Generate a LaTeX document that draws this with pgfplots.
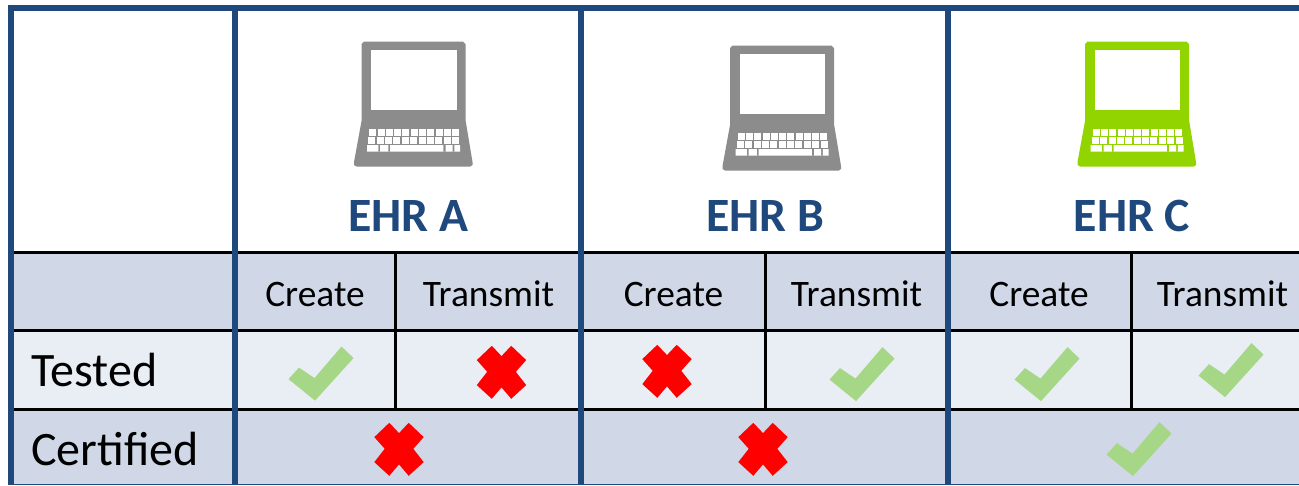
\documentclass[border=0pt]{standalone}
\usepackage{pgfplots}
\usepackage{pgfplotstable}
\pgfplotsset{compat=1.18}
\usepackage{fontspec}
\setmainfont{Carlito}
\definecolor{ehrblue}{HTML}{1F497D}
\definecolor{rowdark}{HTML}{D0D8E8}
\definecolor{rowlight}{HTML}{E9EDF4}
\definecolor{lapgray}{HTML}{8C8C8C}
\definecolor{lapgreen}{HTML}{92D400}
\definecolor{chk}{HTML}{A5D786}
\pgfplotstableread{
x y
364 41.7
463 41.7
465.5 44
465.5 120
472.5 162
472.5 165
470 166.7
357 166.7
354 165
354 162
361.7 120
361.7 44
}\lapbody
\pgfplotstableread{
x y
371.3 50
456.7 50
456.7 110.3
371.3 110.3
}\lapscreen
\pgfplotstableread{
x y
372.3 131.8
380.6 131.8
388.9 131.8
397.2 131.8
405.5 131.8
413.8 131.8
422 131.8
430.3 131.8
438.6 131.8
446.7 131.8
455 131.8
371.3 139.7
379.7 139.7
388.1 139.7
396.5 139.7
404.9 139.7
413.3 139.7
421.7 139.7
430 139.7
438.4 139.7
446.8 139.7
455.2 139.7
}\lapkeys
\pgfplotstableread{
x y
367 145
378.3 145
378.3 151.7
380 151.7
380 145
388.3 145
388.3 151.7
390 151.7
390 145
443.3 145
443.3 151.7
445.7 151.7
445.7 145
452.7 145
452.7 151.7
454.3 151.7
454.3 145
460 145
460 151.7
367 151.7
}\lapbar
\pgfplotstableread{
x y
20.5 -27
32.5 -15.5
-6 27
-32.5 5.5
-22 -6
-6.5 4.5
}\checkshape
\pgfplotstableread{
x y
-9.7 -26.3
0 -16
9.7 -26.3
24.7 -12
14.3 -0.3
24.7 13
9.7 26.7
0 15.3
-9.7 26.7
-24.7 13
-14.3 -0.3
-24.7 -12
}\crossshape
\newcommand\laptop[3]{%
  \addplot[fill=#3,draw=none] table[x expr=\thisrow{x}+#1,y expr=\thisrow{y}+#2]{\lapbody} --cycle;
  \addplot[fill=white,draw=none] table[x expr=\thisrow{x}+#1,y expr=\thisrow{y}+#2]{\lapscreen} --cycle;
  \addplot[only marks,mark=square*,mark size=1.5pt,mark options={draw=white,fill=white,line width=0.1pt}] table[x expr=\thisrow{x}+#1,y expr=\thisrow{y}+#2]{\lapkeys};
  \addplot[fill=white,draw=none] table[x expr=\thisrow{x}+#1,y expr=\thisrow{y}+#2]{\lapbar} --cycle;
}
\newcommand\chk[2]{\addplot[fill=chk,draw=none] table[x expr=\thisrow{x}+#1,y expr=\thisrow{y}+#2]{\checkshape} --cycle;}
\newcommand\crs[2]{\addplot[fill=red,draw=none] table[x expr=\thisrow{x}+#1,y expr=\thisrow{y}+#2]{\crossshape} --cycle;}
\newcommand\band[3]{\addplot[fill=#3,draw=none] coordinates {(10,#1) (1299,#1) (1299,#2) (10,#2)} --cycle;}
\newcommand\hl[6]{\addplot[draw=#5,line width=#6] coordinates {(#1,#2) (#3,#4)};}
\begin{document}
\begin{tikzpicture}
\begin{axis}[
  scale only axis, width=649.5pt, height=242.5pt,
  xmin=0, xmax=1299, ymin=0, ymax=485, y dir=reverse,
  hide axis, clip=true,
  every axis plot/.append style={forget plot},
]
\band{11}{253}{white}
\band{253}{331}{rowdark}
\band{331}{409}{rowlight}
\band{409}{485}{rowdark}
% laptops
\laptop{0}{0}{lapgray}
\laptop{368.5}{4}{lapgray}
\laptop{723.5}{0}{lapgreen}
% black rules
\hl{11}{252.7}{1299}{252.7}{black}{1.3pt}
\hl{11}{330.7}{1299}{330.7}{black}{1.5pt}
\hl{11}{409}{1299}{409}{black}{1.5pt}
\hl{395.5}{253}{395.5}{409}{black}{1.2pt}
\hl{765.5}{253}{765.5}{409}{black}{1.2pt}
\hl{1131.5}{253}{1131.5}{409}{black}{1.2pt}
% blue rules
\hl{8}{8}{1299}{8}{ehrblue}{2.8pt}
\hl{10.8}{5}{10.8}{485}{ehrblue}{2.8pt}
\hl{235.3}{5}{235.3}{485}{ehrblue}{3pt}
\hl{581}{5}{581}{485}{ehrblue}{3pt}
\hl{948}{5}{948}{485}{ehrblue}{3pt}
\hl{8}{484.5}{1299}{484.5}{ehrblue}{0.8pt}
% marks
\chk{321}{373.5}
\crs{501.5}{372}
\crs{667}{371}
\chk{862}{374}
\chk{1047}{374}
\chk{1231}{370}
\crs{399}{449}
\crs{763}{449}
\chk{1139}{449}
% text
\def\hd{\fontsize{23.9}{26}\selectfont\bfseries\color{ehrblue}}
\node[font=\hd] at (axis cs:408.5,216) {EHR A};
\node[font=\hd] at (axis cs:765,216) {EHR B};
\node[font=\hd] at (axis cs:1132,216) {EHR C};
\def\sm{\fontsize{18.7}{22}\selectfont}
\node[font=\sm] at (axis cs:315,294) {Create};
\node[font=\sm] at (axis cs:488.5,294) {Transmit};
\node[font=\sm] at (axis cs:673.5,294) {Create};
\node[font=\sm] at (axis cs:856.5,294) {Transmit};
\node[font=\sm] at (axis cs:1039,294) {Create};
\node[font=\sm] at (axis cs:1222.5,294) {Transmit};
\def\lg{\fontsize{24}{26}\selectfont}
\node[font=\lg,anchor=base west,inner sep=0pt] at (axis cs:31,386) {Tested};
\node[font=\lg,anchor=base west,inner sep=0pt] at (axis cs:31,465) {Certified};
\end{axis}
\pgfresetboundingbox
\path[use as bounding box] (current axis.south west) rectangle (current axis.north east);
\end{tikzpicture}
\end{document}
